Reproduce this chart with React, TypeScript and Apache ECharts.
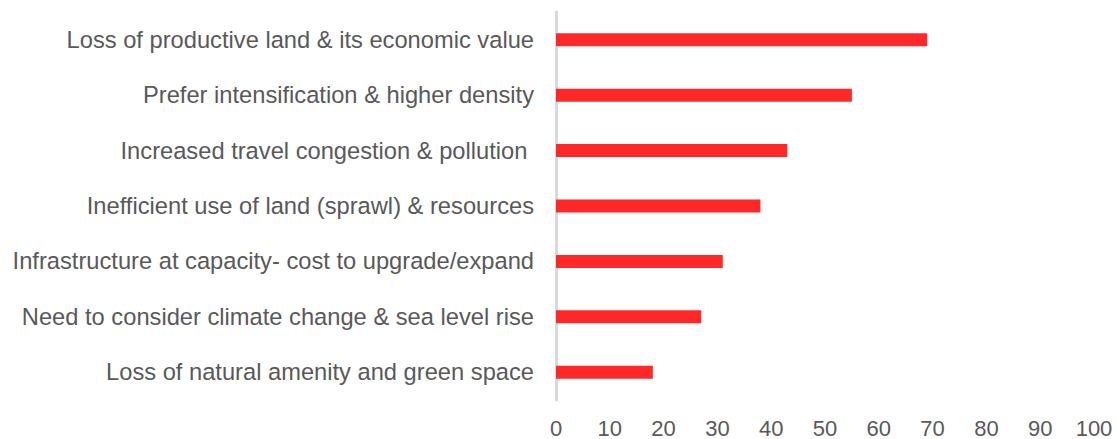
import React, { useEffect, useRef } from "react";
import * as echarts from "echarts";

const categories = [
  "Loss of productive land & its economic value",
  "Prefer intensification & higher density",
  "Increased travel congestion & pollution ",
  "Inefficient use of land (sprawl) & resources",
  "Infrastructure at capacity- cost to upgrade/expand",
  "Need to consider climate change & sea level rise",
  "Loss of natural amenity and green space",
];
const values = [69, 55, 43, 38, 31, 27, 18];
const xMin = 0;
const xMax = 100;
const xInterval = 10;

export default function App() {
  const ref = useRef<HTMLDivElement>(null);
  useEffect(() => {
    if (!ref.current) return;
    const chart = echarts.init(ref.current, null, { renderer: "svg" });
    chart.setOption({
      animation: false,
      grid: {
        left: 556,
        right: 23,
        top: 12,
        bottom: 39,
        containLabel: false,
        outerBoundsMode: "none",
      },
      xAxis: {
        type: "value",
        min: xMin,
        max: xMax,
        interval: xInterval,
        axisLine: { show: false },
        axisTick: { show: false },
        splitLine: { show: false },
        axisLabel: {
          color: "#595959",
          fontSize: 22,
          fontFamily: "Liberation Sans, Arial, sans-serif",
          margin: 17,
        },
      },
      yAxis: {
        type: "category",
        data: categories,
        inverse: true,
        axisLine: { show: true, lineStyle: { color: "#d9d9d9", width: 3 } },
        axisTick: { show: false },
        axisLabel: {
          color: "#595959",
          fontSize: 23.7,
          fontFamily: "Liberation Sans, Arial, sans-serif",
          margin: 22,
        },
      },
      series: [
        {
          type: "bar",
          data: values,
          barWidth: 13,
          itemStyle: { color: "#ff2828" },
        },
      ],
    });
    return () => chart.dispose();
  }, []);
  return (
    <div
      ref={ref}
      style={{ position: "absolute", left: 0, top: 0, width: 1117, height: 439 }}
    />
  );
}
